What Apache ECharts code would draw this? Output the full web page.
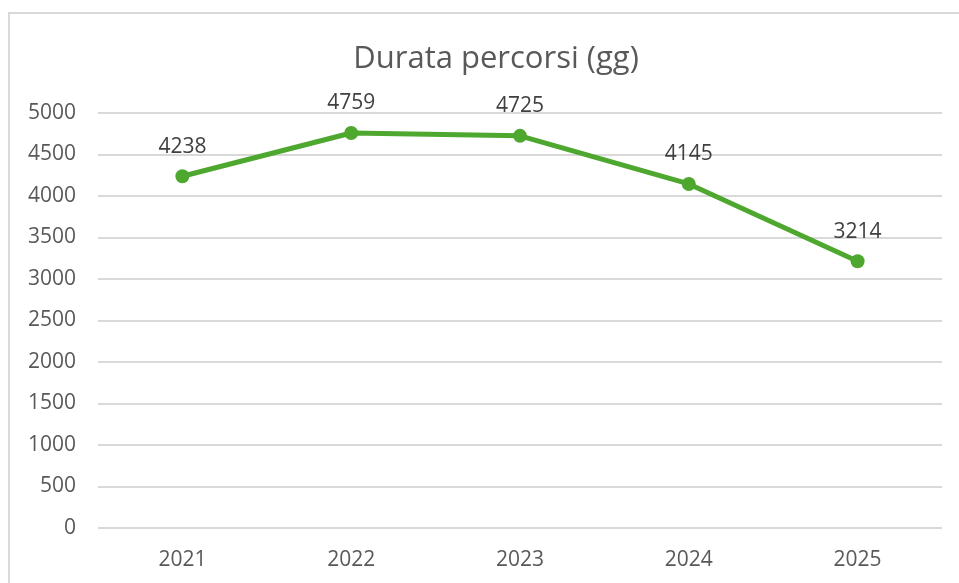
<!DOCTYPE html>
<html>
<head>
<meta charset="utf-8">
<script src="https://cdn.jsdelivr.net/npm/echarts@6/dist/echarts.min.js"></script>
<style>
  html, body { margin: 0; padding: 0; background: #fff; }
  #chart { width: 959px; height: 583px; }
</style>
</head>
<body>
<div id="chart"></div>
<script>
const years = ['2021', '2022', '2023', '2024', '2025'];
const durata = [4238, 4759, 4725, 4145, 3214];
const yTicks = { min: 0, max: 5000, interval: 500 };

const chart = echarts.init(document.getElementById('chart'));

chart.setOption({
  backgroundColor: '#ffffff',
  animation: false,
  graphic: [
    {
      type: 'rect',
      shape: { x: 9, y: 13, width: 1000, height: 1000 },
      style: { fill: 'none', stroke: '#d9d9d9', lineWidth: 2 },
      silent: true
    }
  ],
  title: {
    text: 'Durata percorsi (gg)',
    left: 491,
    top: 39,
    textAlign: 'center',
    textStyle: {
      fontFamily: 'Open Sans',
      fontSize: 31,
      fontWeight: 'normal',
      color: '#595959'
    }
  },
  grid: {
    left: 98,
    right: 17,
    top: 113,
    bottom: 55
  },
  xAxis: {
    type: 'category',
    data: years,
    axisLine: { show: false },
    axisTick: { show: false },
    axisLabel: {
      color: '#595959',
      fontFamily: 'Open Sans',
      fontSize: 21,
      margin: 22
    }
  },
  yAxis: {
    type: 'value',
    min: yTicks.min,
    max: yTicks.max,
    interval: yTicks.interval,
    axisLine: { show: false },
    axisTick: { show: false },
    axisLabel: {
      color: '#595959',
      fontFamily: 'Open Sans',
      fontSize: 21,
      margin: 22,
      formatter: (value) => String(value)
    },
    splitLine: {
      lineStyle: { color: '#d9d9d9', width: 2 }
    }
  },
  series: [
    {
      name: 'Durata percorsi (gg)',
      type: 'line',
      data: durata,
      symbol: 'circle',
      symbolSize: 14,
      itemStyle: { color: '#4ea72e' },
      lineStyle: { color: '#4ea72e', width: 5 },
      label: {
        show: true,
        position: 'top',
        distance: 12,
        color: '#404040',
        fontFamily: 'Open Sans',
        fontSize: 21
      }
    }
  ]
});
</script>
</body>
</html>
